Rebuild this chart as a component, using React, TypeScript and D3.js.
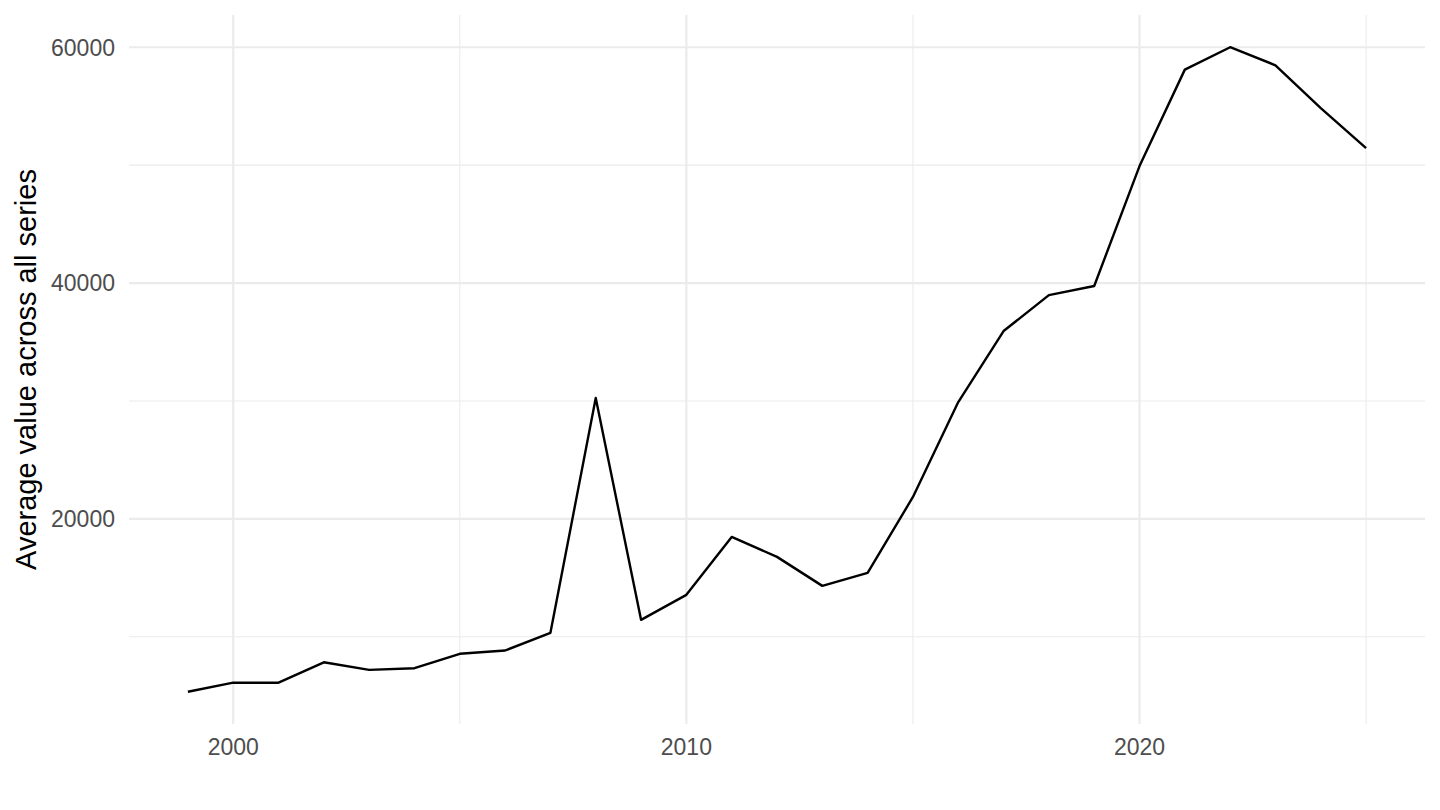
import React from 'react';
import * as d3 from 'd3';

// years and yearly average
const years = [1999, 2000, 2001, 2002, 2003, 2004, 2005, 2006, 2007, 2008, 2009, 2010, 2011, 2012,
  2013, 2014, 2015, 2016, 2017, 2018, 2019, 2020, 2021, 2022, 2023, 2024, 2025];
const avgValues = [5340, 6110, 6110, 7840, 7200, 7340, 8560, 8840, 10340, 30250, 11440, 13560, 18470,
  16780, 14320, 15420, 21860, 29910, 35930, 38980, 39750, 49920, 58100, 60000, 58470, 54830, 51440];

const xMajor = [2000, 2010, 2020];
const xMinor = [2005, 2015, 2025];
const yMajor = [20000, 40000, 60000];
const yMinor = [10000, 30000, 50000];
const yTitle = 'Average value across all series';

const W = 1440;
const H = 810;
const font = '"Liberation Sans", Arial, Helvetica, sans-serif';

export default function App() {
  // ggplot-style 5% expansion on both axes
  const xExt = d3.extent(years) as [number, number];
  const yExt = d3.extent(avgValues) as [number, number];
  const xPad = (xExt[1] - xExt[0]) * 0.05;
  const yPad = (yExt[1] - yExt[0]) * 0.05;

  const panel = { left: 129, right: 1425, top: 15, bottom: 724 };

  const x = d3.scaleLinear()
    .domain([xExt[0] - xPad, xExt[1] + xPad])
    .range([panel.left, panel.right]);
  const y = d3.scaleLinear()
    .domain([yExt[0] - yPad, yExt[1] + yPad])
    .range([panel.bottom, panel.top]);

  const line = d3.line<number>()
    .x((_, i) => x(years[i]))
    .y(d => y(d));

  return (
    <div style={{ position: 'absolute', left: 0, top: 0 }}>
      <svg width={W} height={H} style={{ display: 'block', background: '#fff' }}>
        {/* minor grid */}
        {yMinor.map(v => (
          <line key={'ym' + v} x1={panel.left} x2={panel.right} y1={y(v)} y2={y(v)}
            stroke="#ebebeb" strokeWidth={1.1} />
        ))}
        {xMinor.map(v => (
          <line key={'xm' + v} x1={x(v)} x2={x(v)} y1={panel.top} y2={panel.bottom}
            stroke="#ebebeb" strokeWidth={1.1} />
        ))}
        {/* major grid */}
        {yMajor.map(v => (
          <line key={'yM' + v} x1={panel.left} x2={panel.right} y1={y(v)} y2={y(v)}
            stroke="#ebebeb" strokeWidth={2.2} />
        ))}
        {xMajor.map(v => (
          <line key={'xM' + v} x1={x(v)} x2={x(v)} y1={panel.top} y2={panel.bottom}
            stroke="#ebebeb" strokeWidth={2.2} />
        ))}

        <path d={line(avgValues) || ''} fill="none" stroke="#000" strokeWidth={2.4}
          strokeLinejoin="round" />

        {/* tick labels */}
        {yMajor.map(v => (
          <text key={'yl' + v} x={115} y={y(v)} dy="0.36em" textAnchor="end"
            fontFamily={font} fontSize={23} fill="#4d4d4d">{v}</text>
        ))}
        {xMajor.map(v => (
          <text key={'xl' + v} x={x(v)} y={747} dy="0.36em" textAnchor="middle"
            fontFamily={font} fontSize={23} fill="#4d4d4d">{v}</text>
        ))}

        <text transform={`translate(36,${(panel.top + panel.bottom) / 2}) rotate(-90)`}
          textAnchor="middle" fontFamily={font} fontSize={29} fill="#000">{yTitle}</text>
      </svg>
    </div>
  );
}
